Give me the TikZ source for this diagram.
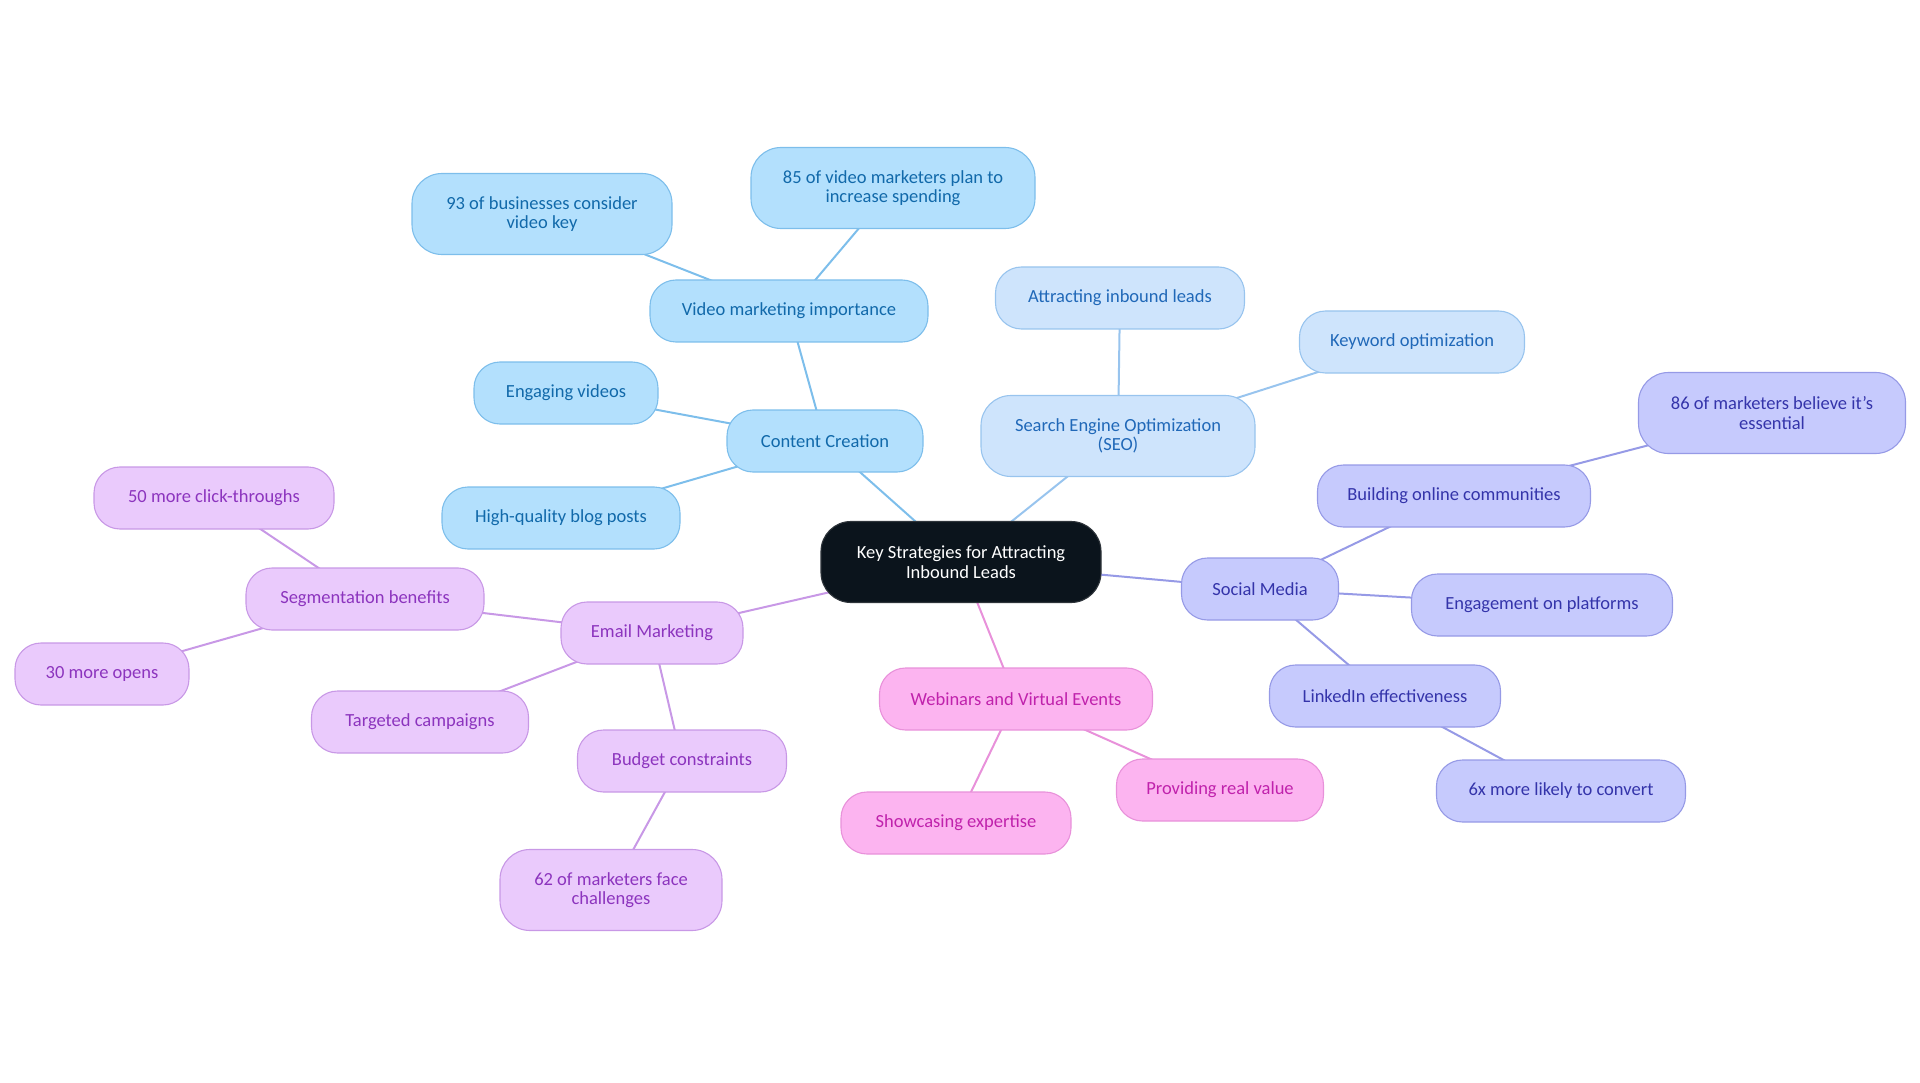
\documentclass[tikz,border=0pt]{standalone}
\usepackage{fontspec}
\setmainfont{Carlito}
\usetikzlibrary{backgrounds}
\definecolor{cfill}{RGB}{179,224,253}
\definecolor{cline}{RGB}{125,190,235}
\definecolor{ctext}{RGB}{17,105,170}
\definecolor{sfill}{RGB}{206,228,252}
\definecolor{sline}{RGB}{152,196,238}
\definecolor{stext}{RGB}{32,104,184}
\definecolor{mfill}{RGB}{198,202,253}
\definecolor{mline}{RGB}{150,154,230}
\definecolor{mtext}{RGB}{52,52,170}
\definecolor{wfill}{RGB}{252,180,240}
\definecolor{wline}{RGB}{232,145,218}
\definecolor{wtext}{RGB}{192,34,172}
\definecolor{efill}{RGB}{234,202,252}
\definecolor{eline}{RGB}{200,152,230}
\definecolor{etext}{RGB}{140,52,190}
\definecolor{rootfill}{RGB}{11,20,28}
\tikzset{
  box/.style={rounded corners=26pt, minimum height=62pt, inner sep=0pt, align=center,
    font=\fontsize{18.5}{19.5}\selectfont, line width=1.1pt},
  tall/.style={minimum height=81pt, rounded corners=30pt},
  cbox/.style={box, fill=cfill, draw=cline, text=ctext},
  sbox/.style={box, fill=sfill, draw=sline, text=stext},
  mbox/.style={box, fill=mfill, draw=mline, text=mtext},
  wbox/.style={box, fill=wfill, draw=wline, text=wtext},
  ebox/.style={box, fill=efill, draw=eline, text=etext},
  rootbox/.style={box, tall, fill=rootfill, draw=rootfill!70!gray, text=white},
  cedge/.style={draw=cline, line width=2pt},
  sedge/.style={draw=sline, line width=2pt},
  medge/.style={draw=mline, line width=2pt},
  wedge/.style={draw=wline, line width=2pt},
  eedge/.style={draw=eline, line width=2pt},
}
\begin{document}
\begin{tikzpicture}[x=1pt,y=-1pt]
\useasboundingbox (0,0) rectangle (1920,1083);
\node[rootbox, minimum width=280pt] (root) at (961,562) {Key Strategies for Attracting\\Inbound Leads};
% Content creation
\node[cbox, minimum width=196pt] (cc) at (825,441) {Content Creation};
\node[cbox, minimum width=278pt] (vmi) at (789,311) {Video marketing importance};
\node[cbox, tall, minimum width=260pt] (b93) at (542,214) {93 of businesses consider\\video key};
\node[cbox, tall, minimum width=284pt] (v85) at (893,188) {85 of video marketers plan to\\increase spending};
\node[cbox, minimum width=184pt] (ev) at (566,393) {Engaging videos};
\node[cbox, minimum width=238pt] (hq) at (561,518) {High-quality blog posts};
% SEO
\node[sbox, tall, minimum width=274pt] (seo) at (1118,436) {Search Engine Optimization\\(SEO)};
\node[sbox, minimum width=249pt] (ail) at (1120,298) {Attracting inbound leads};
\node[sbox, minimum width=225pt] (ko) at (1412,342) {Keyword optimization};
% Social media
\node[mbox, minimum width=157pt] (sm) at (1260,589) {Social Media};
\node[mbox, minimum width=273pt] (boc) at (1454,496) {Building online communities};
\node[mbox, tall, minimum width=267pt] (m86) at (1772,413) {86 of marketers believe it's\\essential};
\node[mbox, minimum width=261pt] (eop) at (1542,605) {Engagement on platforms};
\node[mbox, minimum width=231pt] (li) at (1385,696) {LinkedIn effectiveness};
\node[mbox, minimum width=249pt] (x6) at (1561,791) {6x more likely to convert};
% Webinars
\node[wbox, minimum width=273pt] (web) at (1016,699) {Webinars and Virtual Events};
\node[wbox, minimum width=230pt] (se) at (956,823) {Showcasing expertise};
\node[wbox, minimum width=207pt] (prv) at (1220,790) {Providing real value};
% Email
\node[ebox, minimum width=182pt] (em) at (652,633) {Email Marketing};
\node[ebox, minimum width=238pt] (seg) at (365,599) {Segmentation benefits};
\node[ebox, minimum width=240pt] (c50) at (214,498) {50 more click-throughs};
\node[ebox, minimum width=174pt] (o30) at (102,674) {30 more opens};
\node[ebox, minimum width=217pt] (tc) at (420,722) {Targeted campaigns};
\node[ebox, minimum width=209pt] (bc) at (682,761) {Budget constraints};
\node[ebox, tall, minimum width=222pt] (m62) at (611,890) {62 of marketers face\\challenges};
\begin{scope}[on background layer]
\draw[cedge] (root.center) -- (cc.center);
\draw[cedge] (cc.center) -- (vmi.center);
\draw[cedge] (vmi.center) -- (b93.center);
\draw[cedge] (vmi.center) -- (v85.center);
\draw[cedge] (cc.center) -- (ev.center);
\draw[cedge] (cc.center) -- (hq.center);
\draw[sedge] (root.center) -- (seo.center);
\draw[sedge] (seo.center) -- (ail.center);
\draw[sedge] (seo.center) -- (ko.center);
\draw[medge] (root.center) -- (sm.center);
\draw[medge] (sm.center) -- (boc.center);
\draw[medge] (boc.center) -- (m86.center);
\draw[medge] (sm.center) -- (eop.center);
\draw[medge] (sm.center) -- (li.center);
\draw[medge] (li.center) -- (x6.center);
\draw[wedge] (root.center) -- (web.center);
\draw[wedge] (web.center) -- (se.center);
\draw[wedge] (web.center) -- (prv.center);
\draw[eedge] (root.center) -- (em.center);
\draw[eedge] (em.center) -- (seg.center);
\draw[eedge] (seg.center) -- (c50.center);
\draw[eedge] (seg.center) -- (o30.center);
\draw[eedge] (em.center) -- (tc.center);
\draw[eedge] (em.center) -- (bc.center);
\draw[eedge] (bc.center) -- (m62.center);
\end{scope}
\end{tikzpicture}
\end{document}
